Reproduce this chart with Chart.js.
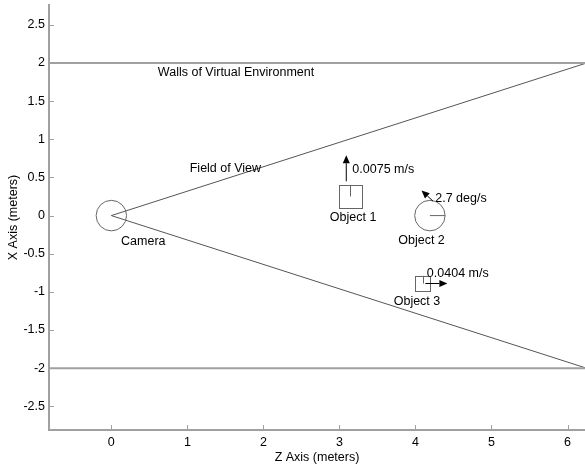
<!DOCTYPE html>
<html>
<head>
<meta charset="utf-8">
<script src="https://cdn.jsdelivr.net/npm/chart.js@4/dist/chart.umd.min.js"></script>
<style>
  html, body { margin: 0; padding: 0; background: #fff; }
  #wrap { width: 585px; height: 469px; }
</style>
</head>
<body>
<div id="wrap"><canvas id="scene" width="585" height="469"></canvas></div>
<script>
// Axis ranges and tick values (Z along the horizontal, X along the vertical)
const zRange = [-0.82, 6.23];
const xRange = [-2.81, 2.76];
const zTicks = [0, 1, 2, 3, 4, 5, 6];
const xTicks = [-2.5, -2, -1.5, -1, -0.5, 0, 0.5, 1, 1.5, 2, 2.5];

// Walls of the virtual environment
const wallZ = [-0.82, 6.25];
const wallUpperX = [2, 2];
const wallLowerX = [-2, -2];

// Field-of-view boundary rays from the camera
const fovZ = [0, 6.25];
const fovUpperX = [0, 2];
const fovLowerX = [0, -2];

// Round objects: [z, x, radius, heading angle in degrees or null]
const circleObjects = [
  [0, 0, 0.2, null],      // camera
  [4.19, 0, 0.2, 0]       // object 2
];
// Square objects: [z, x, side, heading angle in degrees]
const squareObjects = [
  [3.14, 0.25, 0.3, 90],  // object 1
  [4.10, -0.89, 0.2, 90]  // object 3
];
// Motion arrows: [zStart, xStart, zEnd, xEnd]
const motionArrows = [
  [3.09, 0.45, 3.09, 0.79],
  [4.23, 0.19, 4.08, 0.33],
  [4.13, -0.89, 4.42, -0.89]
];
// Text labels: [text, z, x, alignment]
const sceneLabels = [
  ['Walls of Virtual Environment', 1.64, 1.88, 'center'],
  ['Field of View', 1.50, 0.62, 'center'],
  ['Camera', 0.42, -0.34, 'center'],
  ['Object 1', 3.18, -0.03, 'center'],
  ['Object 2', 4.08, -0.33, 'center'],
  ['Object 3', 4.02, -1.13, 'center'],
  ['0.0075 m/s', 3.17, 0.61, 'left'],
  ['2.7 deg/s', 4.26, 0.225, 'left'],
  ['0.0404 m/s', 4.15, -0.76, 'left']
];

const axisGray = '#a0a0a0';
const FONT = "'Liberation Sans', Arial, sans-serif";
const FONT_SIZE = 12.5;
Chart.defaults.font.family = FONT;
Chart.defaults.font.size = FONT_SIZE;
Chart.defaults.color = '#000';

function pts(zs, xs) { return zs.map((z, i) => ({ x: z, y: xs[i] })); }
const plainNumber = v => String(Math.round(v * 100) / 100);

// Draws inward tick marks, objects, arrows and labels through the chart scales
const scenePlugin = {
  id: 'scene',
  afterDatasetsDraw(chart) {
    const { ctx, chartArea: a, scales: { x: sz, y: sx } } = chart;
    const P = (z, x) => [sz.getPixelForValue(z), sx.getPixelForValue(x)];
    const unitZ = Math.abs(sz.getPixelForValue(1) - sz.getPixelForValue(0));
    const unitX = Math.abs(sx.getPixelForValue(1) - sx.getPixelForValue(0));
    ctx.save();

    // inward tick marks
    ctx.strokeStyle = axisGray;
    ctx.lineWidth = 1;
    ctx.beginPath();
    zTicks.forEach(v => {
      const px = Math.round(sz.getPixelForValue(v)) + 0.5;
      ctx.moveTo(px, a.bottom); ctx.lineTo(px, a.bottom - 5);
    });
    xTicks.forEach(v => {
      const py = Math.round(sx.getPixelForValue(v)) + 0.5;
      ctx.moveTo(a.left, py); ctx.lineTo(a.left + 5, py);
    });
    ctx.stroke();

    // circles with heading line
    ctx.strokeStyle = '#666';
    ctx.lineWidth = 1;
    circleObjects.forEach(([z, x, r, h]) => {
      const [cx, cy] = P(z, x);
      ctx.beginPath();
      ctx.ellipse(cx, cy, r * unitZ, r * unitX, 0, 0, Math.PI * 2);
      ctx.stroke();
      if (h !== null) {
        const t = h * Math.PI / 180;
        ctx.beginPath();
        ctx.moveTo(cx, cy);
        ctx.lineTo(cx + Math.cos(t) * r * unitZ, cy - Math.sin(t) * r * unitX);
        ctx.stroke();
      }
    });

    // squares with heading line
    squareObjects.forEach(([z, x, s, h]) => {
      const [x0, y0] = P(z - s / 2, x + s / 2);
      const [x1, y1] = P(z + s / 2, x - s / 2);
      ctx.strokeRect(Math.round(x0) + 0.5, Math.round(y0) + 0.5, Math.round(x1 - x0), Math.round(y1 - y0));
      const [cx, cy] = P(z, x);
      const t = h * Math.PI / 180;
      ctx.beginPath();
      ctx.moveTo(Math.round(cx) + 0.5, cy);
      ctx.lineTo(Math.round(cx + Math.cos(t) * s / 2 * unitZ) + 0.5, cy - Math.sin(t) * s / 2 * unitX);
      ctx.stroke();
    });

    // arrows
    ctx.strokeStyle = '#000';
    ctx.fillStyle = '#000';
    motionArrows.forEach(([z0, x0, z1, x1]) => {
      const [px0, py0] = P(z0, x0);
      const [px1, py1] = P(z1, x1);
      const ang = Math.atan2(py1 - py0, px1 - px0);
      const L = 8, W = 3.5;
      const bx = px1 - Math.cos(ang) * L, by = py1 - Math.sin(ang) * L;
      ctx.beginPath();
      ctx.moveTo(px0, py0); ctx.lineTo(bx, by);
      ctx.stroke();
      ctx.beginPath();
      ctx.moveTo(px1, py1);
      ctx.lineTo(bx - Math.sin(ang) * W, by + Math.cos(ang) * W);
      ctx.lineTo(bx + Math.sin(ang) * W, by - Math.cos(ang) * W);
      ctx.closePath();
      ctx.fill();
    });

    // labels
    ctx.font = FONT_SIZE + 'px ' + FONT;
    ctx.textBaseline = 'middle';
    sceneLabels.forEach(([txt, z, x, al]) => {
      const [px, py] = P(z, x);
      ctx.textAlign = al;
      ctx.fillText(txt, px, py);
    });
    ctx.restore();
  }
};

new Chart(document.getElementById('scene'), {
  type: 'scatter',
  data: {
    datasets: [
      { data: pts(wallZ, wallUpperX), borderColor: axisGray, borderWidth: 2 },
      { data: pts(wallZ, wallLowerX), borderColor: axisGray, borderWidth: 2 },
      { data: pts(fovZ, fovUpperX), borderColor: '#555', borderWidth: 1 },
      { data: pts(fovZ, fovLowerX), borderColor: '#555', borderWidth: 1 }
    ].map(d => Object.assign(d, { showLine: true, pointRadius: 0, fill: false }))
  },
  options: {
    responsive: false,
    animation: false,
    devicePixelRatio: 1,
    layout: { padding: { top: 5, right: 0, left: 0, bottom: 0 } },
    plugins: { legend: { display: false }, tooltip: { enabled: false } },
    scales: {
      x: {
        type: 'linear', position: 'bottom',
        min: zRange[0], max: zRange[1],
        grid: { display: false, drawTicks: false },
        border: { display: true, color: axisGray, width: 2 },
        ticks: { padding: 5, color: '#000', font: { size: FONT_SIZE }, callback: plainNumber },
        afterBuildTicks: s => { s.ticks = zTicks.map(v => ({ value: v })); },
        afterFit: s => { s.height = 39; s.paddingLeft = 0; s.paddingRight = 0; },
        title: { display: true, text: 'Z Axis (meters)', color: '#000', font: { size: FONT_SIZE }, padding: { top: 0, bottom: 4 } }
      },
      y: {
        type: 'linear', position: 'left',
        min: xRange[0], max: xRange[1],
        grid: { display: false, drawTicks: false },
        border: { display: true, color: axisGray, width: 2 },
        ticks: { padding: 4, color: '#000', font: { size: FONT_SIZE }, callback: plainNumber },
        afterBuildTicks: s => { s.ticks = xTicks.map(v => ({ value: v })); },
        afterFit: s => { s.width = 49; s.paddingTop = 0; s.paddingBottom = 0; },
        title: { display: true, text: 'X Axis (meters)', color: '#000', font: { size: FONT_SIZE }, padding: { top: 6, bottom: 0 } }
      }
    }
  },
  plugins: [scenePlugin]
});
</script>
</body>
</html>
